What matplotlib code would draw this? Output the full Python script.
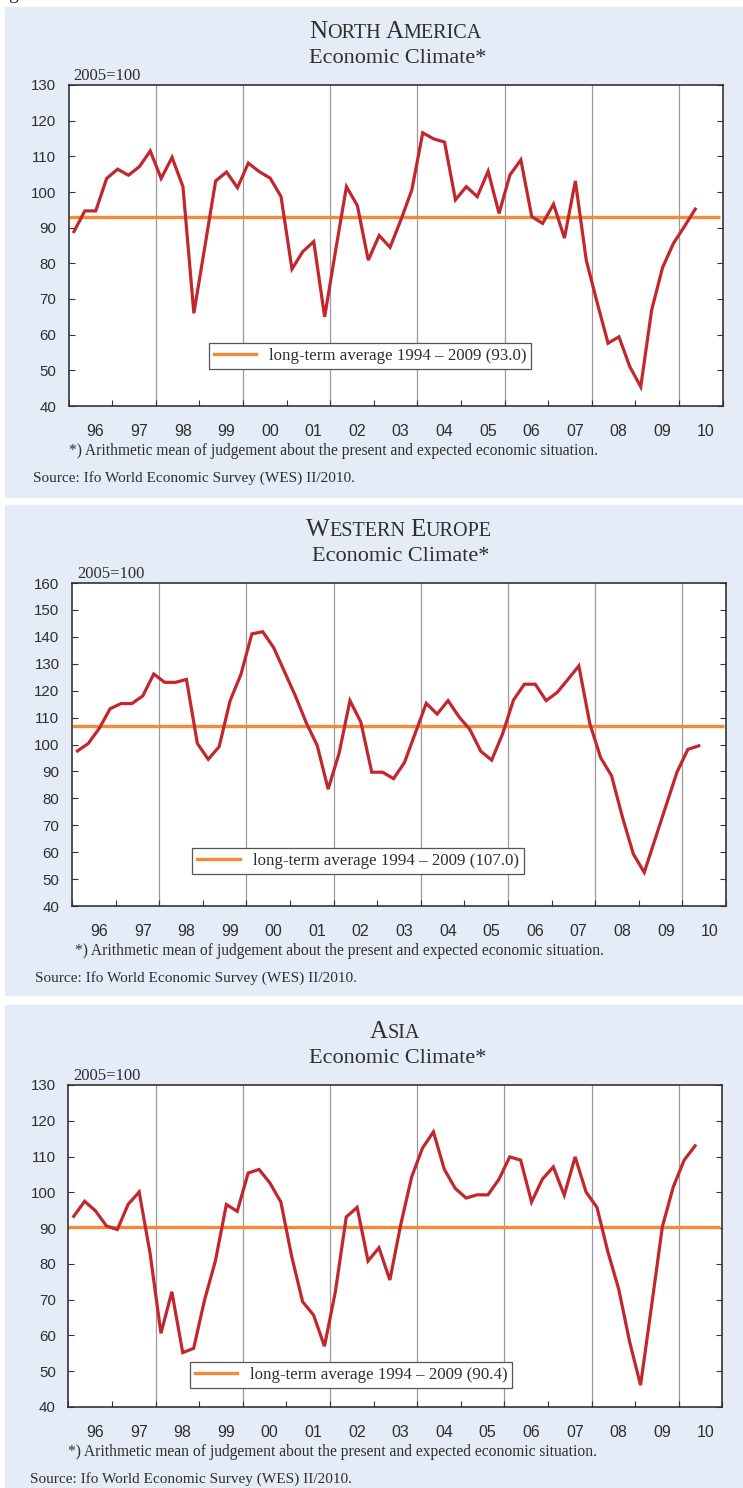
import numpy as np
import matplotlib
matplotlib.use("Agg")
import matplotlib.pyplot as plt
from matplotlib.patches import Rectangle
from matplotlib.lines import Line2D

W, H = 743, 1488

# quarterly values, 1996 Q1 .. 2010 Q2
na_values = [88.9, 94.7, 94.7, 103.8,
             106.4, 104.7, 107.1, 111.5,
             103.8, 109.7, 101.5, 66.0,
             84.5, 103.1, 105.6, 101.2,
             108.1, 105.7, 103.9, 98.7,
             78.4, 83.3, 86.1, 65.0,
             83.5, 101.5, 96.2, 80.9,
             87.8, 84.5, 92.2, 100.6,
             116.6, 114.9, 114.0, 97.8,
             101.5, 98.7, 105.8, 94.0,
             104.8, 109.0, 93.1, 91.2,
             96.6, 87.1, 103.1, 80.9,
             69.0, 57.6, 59.4, 51.0,
             45.4, 66.9, 78.8, 85.6,
             90.3, 95.2]
we_values = [97.6, 100.4, 106.0, 113.3,
             115.2, 115.2, 118.1, 126.2,
             123.1, 123.1, 124.2, 100.4,
             94.5, 99.2, 116.2, 126.1,
             141.1, 141.9, 136.0, 127.0,
             118.0, 108.0, 99.6, 83.4,
             96.7, 116.3, 108.3, 89.7,
             89.7, 87.3, 93.3, 104.3,
             115.3, 111.3, 116.3, 110.3,
             105.6, 97.5, 94.2, 103.9,
             116.5, 122.4, 122.4, 116.3,
             119.3, 124.2, 129.2, 107.9,
             95.1, 88.4, 73.0, 59.3,
             52.5, 64.9, 77.3, 89.7,
             98.2, 99.5]
asia_values = [93.3, 97.5, 94.8, 90.6,
               89.6, 96.7, 100.1, 83.0,
               60.6, 72.2, 55.2, 56.4,
               69.9, 80.9, 96.6, 94.7,
               105.4, 106.4, 102.6, 97.3,
               82.0, 69.4, 65.7, 57.0,
               72.2, 93.1, 95.8, 80.8,
               84.5, 75.5, 91.0, 104.3,
               112.4, 116.9, 106.4, 101.1,
               98.4, 99.3, 99.3, 103.6,
               109.9, 109.0, 97.3, 103.7,
               107.1, 99.2, 109.9, 100.1,
               95.8, 83.4, 72.9, 58.2,
               46.1, 68.0, 90.4, 101.5,
               109.0, 113.0]

averages = [93.0, 107.0, 90.4]
titles = ["North America", "Western Europe", "Asia"]
year_labels = ["96", "97", "98", "99", "00", "01", "02", "03", "04",
               "05", "06", "07", "08", "09", "10"]
first_year = 1996

RED = "#c1272d"
ORANGE = "#f28a3a"
BG = "#e5ebf7"
TXT = "#2e2e2e"
SERIF = "Liberation Serif"
SANS = "Liberation Sans"

fig = plt.figure(figsize=(W / 100, H / 100), dpi=100)
renderer = fig.canvas.get_renderer()


def fx(x):
    return x / W


def fy(y):
    return 1 - y / H


def smallcaps(xc, ybase, text, big, small):
    parts = []
    words = text.upper().split()
    for w in words:
        parts.append((w[0], big))
        parts.append((w[1:], small))
    objs = [fig.text(0, fy(ybase), s, fontsize=sz, family=SERIF, color=TXT,
                     va="baseline", ha="left") for s, sz in parts]
    widths = [t.get_window_extent(renderer).width for t in objs]
    gap = 5
    total = sum(widths) + gap * (len(words) - 1)
    x = xc - total / 2
    for k, t in enumerate(objs):
        t.set_x(fx(x))
        x += widths[k]
        if k % 2 == 1:
            x += gap


# panel layout in pixels: bg top/bottom, axes left, top, bottom, ylim, legend centre
panels = [
    dict(bg=(7, 497), left=68.5, top=85, bottom=406, ylim=(40, 130),
         leg=(370, 356), foot=69, src=33),
    dict(bg=(505, 995), left=72, top=583, bottom=906, ylim=(40, 160),
         leg=(358, 861), foot=75, src=35),
    dict(bg=(1005, 1488), left=68.3, top=1085, bottom=1407, ylim=(40, 130),
         leg=(351, 1375), foot=68, src=30),
]
series = [na_values, we_values, asia_values]
yearw = 43.6

# stray descender of the page heading above
fig.text(fx(8), fy(-1), "g", fontsize=14, family=SERIF, color=TXT, va="baseline")

for p, vals, avg, title in zip(panels, series, averages, titles):
    fig.patches.append(Rectangle((fx(5), fy(p["bg"][1])), fx(W - 5),
                                 (p["bg"][1] - p["bg"][0]) / H,
                                 transform=fig.transFigure, color=BG, zorder=-5))
    right = p["left"] + 15 * yearw
    ax = fig.add_axes([fx(p["left"]), fy(p["bottom"]),
                       (right - p["left"]) / W, (p["bottom"] - p["top"]) / H])
    ax.set_zorder(2)
    ax.set_facecolor("white")
    x = first_year + (np.arange(len(vals)) + 0.5) / 4
    for yr in range(1998, 2011, 2):
        ax.axvline(yr, color="#9a9a9a", lw=0.9, zorder=1)
    ax.plot([first_year, first_year + 14.95], [avg, avg], color=ORANGE, lw=2.4,
            zorder=2, solid_capstyle="butt")
    ax.plot(x, vals, color=RED, lw=2.3, zorder=3, solid_joinstyle="miter")
    ax.set_xlim(first_year, first_year + 15)
    ax.set_ylim(*p["ylim"])
    ax.set_yticks(np.arange(p["ylim"][0], p["ylim"][1] + 1, 10))
    ax.set_xticks(np.arange(first_year, first_year + 16))
    ax.set_xticklabels([])
    ax.set_xticks(np.arange(first_year, first_year + 15) + 0.62, minor=True)
    ax.set_xticklabels(year_labels, minor=True)
    ax.tick_params(axis="x", which="major", direction="in", length=4,
                   color="#333333", width=0.8)
    ax.tick_params(axis="x", which="minor", length=0, pad=13, labelsize=11.5,
                   labelcolor=TXT)
    ax.tick_params(axis="y", direction="in", length=4, left=True, right=True,
                   pad=9, labelsize=10.8, labelcolor=TXT, color="#333333", width=0.8)
    for lab in ax.get_xticklabels(minor=True) + ax.get_yticklabels():
        lab.set_family(SANS)
    for s in ax.spines.values():
        s.set_color("#333333")
        s.set_linewidth(1.2)

    leg = ax.legend([Line2D([], [], color=ORANGE, lw=2.4)],
                    ["long-term average 1994 \u2013 2009 (%.1f)" % avg],
                    loc="center", bbox_to_anchor=(fx(p["leg"][0]), fy(p["leg"][1])),
                    bbox_transform=fig.transFigure, fancybox=False, framealpha=1,
                    edgecolor="#555555", handlelength=2.5, handletextpad=0.75,
                    borderpad=0.3, prop={"family": SERIF, "size": 12.2})
    leg.get_frame().set_linewidth(0.9)
    for t in leg.get_texts():
        t.set_color(TXT)

    xc = (p["left"] + right) / 2
    smallcaps(xc, p["top"] - 47, title, 18, 14.5)
    fig.text(fx(xc + 2), fy(p["top"] - 22), "Economic Climate*", fontsize=16,
             family=SERIF, color=TXT, ha="center", va="baseline")
    fig.text(fx(p["left"] + 5), fy(p["top"] - 5), "2005=100", fontsize=12,
             family=SERIF, color=TXT, ha="left", va="baseline")
    fig.text(fx(p["foot"]), fy(p["bottom"] + 45),
             "*) Arithmetic mean of judgement about the present and expected economic situation.",
             fontsize=11.2, family=SERIF, color=TXT, ha="left", va="center")
    fig.text(fx(p["src"]), fy(p["bottom"] + 72),
             "Source: Ifo World Economic Survey (WES) II/2010.",
             fontsize=11, family=SERIF, color=TXT, ha="left", va="center")

fig.savefig("out.png", dpi=100, facecolor="white")
